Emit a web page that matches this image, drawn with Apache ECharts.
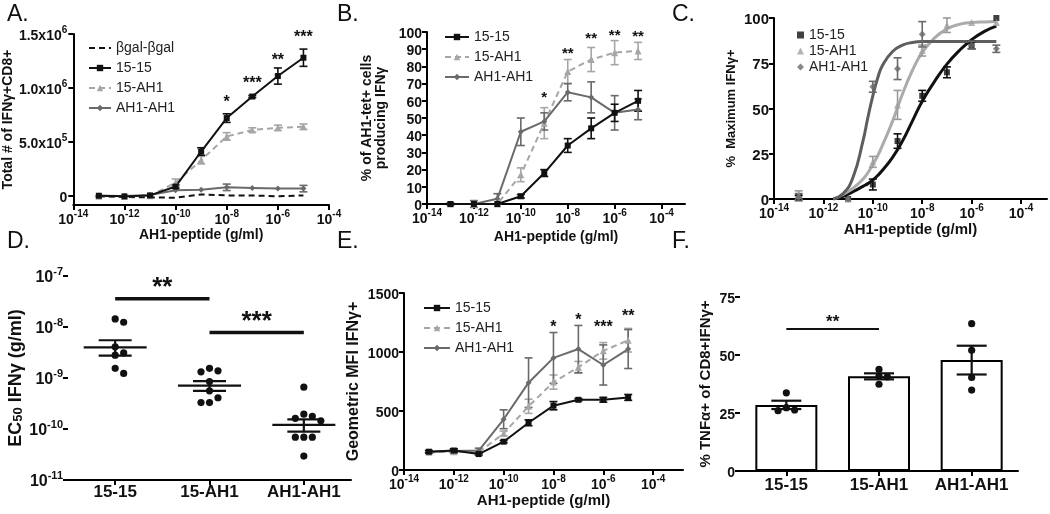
<!DOCTYPE html>
<html><head><meta charset="utf-8">
<script src="https://cdn.jsdelivr.net/npm/echarts@6/dist/echarts.min.js"></script>
<style>html,body{margin:0;padding:0;background:#fff}#c{width:1050px;height:514px}</style>
</head><body><div id="c"></div>
<script>
// ================= DATA =================
// dose axis: log10 of AH1-peptide concentration (g/ml)
const doseExp = [-13, -12, -11, -10, -9, -8, -7, -6, -5];
const xTickExp = [-14, -12, -10, -8, -6, -4];
const groupNames = ['15-15', '15-AH1', 'AH1-AH1'];

// Panel A: total # of IFNg+CD8+
const aBgal    = [-6000, -12000, -15000, -19000, 12000, 3000, 3000, -6000, 3000];
const a1515    = [0, -6000, 3000, 85000, 410000, 720000, 920000, 1110000, 1280000];
const a1515Err = [0, 0, 0, 15000, 35000, 40000, 10000, 75000, 80000];
const a15AH1   = [-5000, -5000, 0, 120000, 330000, 550000, 610000, 630000, 640000];
const a15AH1Err= [5000, 5000, 0, 35000, 35000, 35000, 20000, 25000, 25000];
const aAH1     = [0, -3000, 6000, 50000, 56000, 78000, 72000, 66000, 66000];
const aAH1Err  = [0, 0, 0, 0, 0, 30000, 0, 0, 30000];
const aYTicks  = [0, 500000, 1000000, 1500000];
const aStarX   = [-8, -7, -6, -5];
const aStarY   = [900000, 1075000, 1290000, 1500000];
const aStarTxt = ['*', '***', '**', '***'];

// Panel B: % of AH1-tet+ cells producing IFNg
const b1515    = [0, 0, 0, 4.5, 18, 34, 44, 53, 60];
const b1515Err = [0.5, 0, 0, 1, 2, 4, 6, 5, 6];
const b15AH1   = [0, 0, 0, 17, 47, 77, 84, 88, 89];
const b15AH1Err= [0, 0, 0, 4, 9, 7, 7, 7, 5];
const bAH1     = [0, 0, 3, 42, 48, 65, 62, 53, 55];
const bAH1Err  = [0, 2, 3, 8, 5, 5, 9, 10, 6];
const bStarX   = [-9, -8, -7, -6, -5];
const bStarY   = [64, 89.5, 98.3, 99.8, 99.2];
const bStarTxt = ['*', '**', '**', '**', '**'];

// Panel C: % maximum IFNg+ (points + fitted curves)
const c1515    = [1, null, 0, 8, 32, 57, 70, 85, 100];
const c1515Err = [1, 0, 0, 3, 4, 3, 3, 2, 0];
const c15AH1   = [2, null, 0, 20.5, 52, 82, 96, 97.5, 97.5];
const c15AH1Err= [2.5, 0, 0, 3, 8, 3, 4, 0, 0];
const cAH1     = [1, null, 0, 62, 72, 91, null, 85, 83];
const cAH1Err  = [2, 0, 0, 3, 6, 7, 0, 2, 2];
const cFitX    = [-11.6, -11.2, -10.8, -10.4, -10.2, -10, -9.8, -9.6, -9.2, -8.8, -8.4, -8, -7.5, -7, -6.5, -6, -5.5, -5];
const cFit1515 = [0, 1.5, 4, 7, 8.5, 10.5, 13, 16, 23, 32, 43, 54, 65, 74.5, 82, 88, 92.5, 95.5];
const cFit15AH1= [0, 2.5, 6, 11, 14.5, 19, 24, 30, 43, 58, 71, 81, 89, 94, 96.5, 97.5, 97.8, 98];
const cFitAH1  = [0, 3, 12, 32, 45, 57, 67, 74, 81.5, 85, 86.5, 87, 87, 87, 87, 87, 87, 87];

// Panel D: EC50 IFNg (g/ml)
const d1515    = [1.44e-8, 1.24e-8, 4.1e-9, 3.1e-9, 2.8e-9, 1.55e-9, 1.23e-9];
const d15AH1   = [1.55e-9, 1.38e-9, 1.32e-9, 8.5e-10, 5.6e-10, 4.1e-10, 3.3e-10, 3.3e-10];
const dAH1     = [6.6e-10, 1.95e-10, 1.78e-10, 1.62e-10, 1.45e-10, 6.9e-11, 6.9e-11, 6.9e-11, 2.95e-11];
const dMean    = [4.0e-9, 7.1e-10, 1.2e-10];
const dSemHi   = [5.5e-9, 8.7e-10, 1.55e-10];
const dSemLo   = [2.75e-9, 5.6e-10, 8.9e-11];
const dYTickExp= [-11, -10, -9, -8, -7];
const dSigFrom = [0.2, 1.3];
const dSigTo   = [0.8, 1.9];
const dSigY    = [3.6e-8, 7.8e-9];
const dSigTxt  = ['**', '***'];

// Panel E: geometric MFI IFNg+
const e1515    = [155, 165, 135, 240, 400, 545, 595, 595, 615];
const e1515Err = [10, 15, 10, 10, 25, 35, 10, 20, 25];
const e15AH1   = [150, 155, 150, 310, 540, 745, 870, 1010, 1100];
const e15AH1Err= [10, 15, 10, 20, 60, 60, 50, 70, 100];
const eAH1     = [155, 160, 165, 430, 740, 950, 1025, 890, 1025];
const eAH1Err  = [10, 15, 20, 80, 210, 215, 200, 170, 165];
const eStarX   = [-8, -7, -6, -5];
const eStarY   = [1237, 1294, 1237, 1333];
const eStarTxt = ['*', '*', '***', '**'];

// Panel F: % TNFa+ of CD8+IFNg+
const fMean    = [28.5, 40.8, 47.8];
const fSem     = [1.8, 1.3, 6.2];
const fPts     = [[33.7, 27.3, 26.0, 26.3], [43.8, 37.4, 40.6, 40.8], [63.5, 52.0, 40.3, 34.9]];
const fSigFrom = [-0.09];
const fSigTo   = [0.97];
const fSigY    = [61.2];
const fSigTxt  = ['**'];

// ================= STYLE / HELPERS =================
const FF = '"Liberation Sans", Arial, Helvetica, sans-serif';
const INK = '#111111', LIGHT = '#a6a6a6', DARK = '#6a6a6a';

function rich(fs, sfs) {
  return {
    b: {fontSize: fs, fontWeight: 'bold', fontFamily: FF, color: INK, lineHeight: fs + 4, verticalAlign: 'bottom'},
    s: {fontSize: sfs || Math.round(fs * 0.7), fontWeight: 'bold', fontFamily: FF, color: INK, lineHeight: fs, verticalAlign: 'top'}
  };
}
const nameStyle = fs => ({fontSize: fs, fontWeight: 'bold', fontFamily: FF, color: INK, rich: {sub: {fontSize: Math.round(fs*0.7), fontWeight: 'bold', fontFamily: FF, color: INK, verticalAlign: 'bottom', padding: [6,0,0,0]}}});
const lineAx = {onZero: false, lineStyle: {color: '#000', width: 2}};
const tickAx = (vals, len) => ({show: true, length: len || 5, lineStyle: {color: '#000', width: 2}, customValues: vals});

function doseAxis(gi, max, fs, nameFs, nameGap) {
  return {type: 'value', gridIndex: gi, min: -14, max: max,
    axisLine: lineAx, axisTick: tickAx(xTickExp),
    axisLabel: {customValues: xTickExp, margin: 4, formatter: v => '{b|10}{s|' + v + '}', rich: rich(fs)},
    splitLine: {show: false},
    name: 'AH1-peptide (g/ml)', nameLocation: 'middle', nameGap: nameGap, nameTextStyle: nameStyle(nameFs)};
}
function valAxis(gi, min, max, ticks, fs, name, nameFs, nameGap, fmt, margin) {
  return {type: 'value', gridIndex: gi, min: min, max: max,
    axisLine: lineAx, axisTick: tickAx(ticks),
    axisLabel: {customValues: ticks, margin: margin || 5, formatter: fmt || (v => '{b|' + v + '}'), rich: rich(fs)},
    splitLine: {show: false},
    name: name, nameLocation: 'middle', nameGap: nameGap, nameTextStyle: nameStyle(nameFs)};
}
function catAxis(gi, fs, margin) {
  return {type: 'category', gridIndex: gi, data: groupNames, boundaryGap: true,
    axisLine: lineAx, axisTick: {show: true, length: 5, interval: 0, alignWithLabel: true, lineStyle: {color: '#000', width: 2}},
    axisLabel: {interval: 0, hideOverlap: false, margin: margin, fontSize: fs, fontWeight: 'bold', fontFamily: FF, color: INK}, splitLine: {show: false}};
}
const pairs = (xs, ys) => xs.map((x, i) => [x, ys[i]]).filter(p => p[1] != null);

function lineSeries(name, gi, ys, color, symbol, size, dashed) {
  return {type: 'line', name: name, xAxisIndex: gi, yAxisIndex: gi, data: pairs(doseExp, ys),
    symbol: symbol, symbolSize: size, showSymbol: symbol !== 'none', z: 4,
    itemStyle: {color: color}, lineStyle: {color: color, width: 2, type: dashed ? [6, 4] : 'solid'}};
}
function errSeries(gi, xs, ys, es, color, cap, lw) {
  const data = [];
  xs.forEach((x, i) => { if (ys[i] != null && es[i]) data.push([x, ys[i], es[i]]); });
  return {type: 'custom', xAxisIndex: gi, yAxisIndex: gi, data: data, silent: true, z: 3,
    encode: {x: 0, y: 1},
    renderItem: (p, api) => {
      const x = api.value(0), y = api.value(1), e = api.value(2);
      const t = api.coord([x, y + e]), b = api.coord([x, y - e]);
      const st = {stroke: color, lineWidth: lw || 1.6};
      return {type: 'group', children: [
        {type: 'line', shape: {x1: t[0], y1: t[1], x2: b[0], y2: b[1]}, style: st},
        {type: 'line', shape: {x1: t[0] - cap / 2, y1: t[1], x2: t[0] + cap / 2, y2: t[1]}, style: st},
        {type: 'line', shape: {x1: b[0] - cap / 2, y1: b[1], x2: b[0] + cap / 2, y2: b[1]}, style: st}]};
    }};
}
function starSeries(gi, xs, ys, txt, fs) {
  const data = xs.map((x, i) => [x, ys[i]]);
  return {type: 'custom', xAxisIndex: gi, yAxisIndex: gi, data: data, silent: true, z: 6, encode: {x: 0, y: 1},
    renderItem: (p, api) => {
      const c = api.coord([api.value(0), api.value(1)]);
      return {type: 'text', x: c[0], y: c[1] + 0.23 * fs,
        style: {text: txt[p.dataIndex], fontSize: fs, fontWeight: 'bold', fontFamily: FF, fill: INK, align: 'center', verticalAlign: 'middle'}};
    }};
}
function sigSeries(gi, from, to, ys, txt, fs, lw, toVal) {
  const data = from.map((f, i) => [f, toVal(ys[i]), to[i]]);
  return {type: 'custom', xAxisIndex: gi, yAxisIndex: gi, data: data, silent: true, z: 6, encode: {x: 0, y: 1},
    renderItem: (p, api) => {
      const a = api.coord([api.value(0), api.value(1)]), b = api.coord([api.value(2), api.value(1)]);
      return {type: 'group', children: [
        {type: 'line', shape: {x1: a[0], y1: a[1], x2: b[0], y2: b[1]}, style: {stroke: INK, lineWidth: lw}},
        {type: 'text', x: (a[0] + b[0]) / 2, y: a[1] + 0.08 * fs, style: {text: txt[p.dataIndex], fontSize: fs, fontWeight: 'bold', fontFamily: FF, fill: INK, align: 'center', verticalAlign: 'bottom'}}]};
    }};
}
// simple column-scatter (beeswarm) layout: returns offset index for each value
function swarm(vals, thr) {
  const order = vals.map((v, i) => i).sort((a, b) => vals[b] - vals[a]);
  const off = new Array(vals.length), placed = [];
  const cands = [0, 1, -1, 2, -2, 3, -3];
  order.forEach(i => {
    for (const c of cands) {
      if (!placed.some(j => off[j] === c && Math.abs(vals[j] - vals[i]) < thr)) { off[i] = c; break; }
    }
    placed.push(i);
  });
  return off;
}
function dotSeries(gi, groups, thr, stepPx, r, toVal) {
  const data = [];
  groups.forEach((g, gi2) => {
    const vv = g.map(toVal);
    const off = swarm(vv, thr);
    vv.forEach((v, k) => data.push([gi2, v, off[k]]));
  });
  return {type: 'custom', xAxisIndex: gi, yAxisIndex: gi, data: data, silent: true, z: 5, encode: {x: 0, y: 1},
    renderItem: (p, api) => {
      const c = api.coord([api.value(0), api.value(1)]);
      return {type: 'circle', shape: {cx: c[0] + api.value(2) * stepPx, cy: c[1], r: r}, style: {fill: INK}};
    }};
}
function meanSemSeries(gi, means, lo, hi, meanW, capW, lw, toVal) {
  const data = means.map((m, i) => [i, toVal(m), toVal(lo[i]), toVal(hi[i])]);
  return {type: 'custom', xAxisIndex: gi, yAxisIndex: gi, data: data, silent: true, z: 6, encode: {x: 0, y: 1},
    renderItem: (p, api) => {
      const m = api.coord([api.value(0), api.value(1)]);
      const l = api.coord([api.value(0), api.value(2)]);
      const h = api.coord([api.value(0), api.value(3)]);
      const st = {stroke: INK, lineWidth: lw};
      const ch = [
        {type: 'line', shape: {x1: h[0], y1: h[1], x2: l[0], y2: l[1]}, style: st},
        {type: 'line', shape: {x1: h[0] - capW / 2, y1: h[1], x2: h[0] + capW / 2, y2: h[1]}, style: st},
        {type: 'line', shape: {x1: l[0] - capW / 2, y1: l[1], x2: l[0] + capW / 2, y2: l[1]}, style: st}];
      if (meanW) ch.push({type: 'line', shape: {x1: m[0] - meanW / 2, y1: m[1], x2: m[0] + meanW / 2, y2: m[1]}, style: st});
      return {type: 'group', children: ch};
    }};
}
const legendBase = (left, top, names, gap, iw, ih) => ({
  orient: 'vertical', left: left, top: top, itemGap: gap, itemWidth: iw, itemHeight: ih, selectedMode: false,
  data: names, formatter: n => n.split('|')[1],
  textStyle: {fontSize: 14, fontFamily: FF, color: '#222'}
});
const sup = v => { if (v === 0) return '{b|0}'; const e = Math.floor(Math.log10(v) + 1e-9); return '{b|' + (v / Math.pow(10, e)).toFixed(1) + 'x10}{s|' + e + '}'; };

// ================= OPTION =================
const series = [];
// A
series.push(lineSeries('A|βgal-βgal', 0, aBgal, INK, 'none', 0, true));
series.push(errSeries(0, doseExp, a15AH1, a15AH1Err, LIGHT, 8));
series.push(lineSeries('A|15-AH1', 0, a15AH1, LIGHT, 'triangle', 7, true));
series.push(errSeries(0, doseExp, aAH1, aAH1Err, DARK, 8));
series.push(lineSeries('A|AH1-AH1', 0, aAH1, DARK, 'diamond', 6, false));
series.push(errSeries(0, doseExp, a1515, a1515Err, INK, 8));
series.push(lineSeries('A|15-15', 0, a1515, INK, 'rect', 6, false));
series.push(starSeries(0, aStarX, aStarY, aStarTxt, 16));
// B
series.push(errSeries(1, doseExp, b15AH1, b15AH1Err, LIGHT, 8));
series.push(lineSeries('B|15-AH1', 1, b15AH1, LIGHT, 'triangle', 7, true));
series.push(errSeries(1, doseExp, bAH1, bAH1Err, DARK, 8));
series.push(lineSeries('B|AH1-AH1', 1, bAH1, DARK, 'diamond', 6, false));
series.push(errSeries(1, doseExp, b1515, b1515Err, INK, 8));
series.push(lineSeries('B|15-15', 1, b1515, INK, 'rect', 6, false));
series.push(starSeries(1, bStarX, bStarY, bStarTxt, 15));
// C
const fitLine = (ys, color) => ({type: 'line', xAxisIndex: 2, yAxisIndex: 2, data: pairs(cFitX, ys), smooth: 0.5, symbol: 'none', z: 2, lineStyle: {color: color, width: 3}});
series.push(fitLine(cFit1515, INK));
series.push(fitLine(cFit15AH1, '#ababab'));
series.push(fitLine(cFitAH1, '#5e5e5e'));
series.push(errSeries(2, doseExp, c1515, c1515Err, INK, 8));
series.push(errSeries(2, doseExp, c15AH1, c15AH1Err, '#9a9a9a', 8));
series.push(errSeries(2, doseExp, cAH1, cAH1Err, DARK, 8));
const sc = (name, ys, color, sym, size) => ({type: 'scatter', name: name, xAxisIndex: 2, yAxisIndex: 2, data: pairs(doseExp, ys), symbol: sym, symbolSize: size, itemStyle: {color: color}, z: 5});
series.push(sc('C|15-15', c1515, INK, 'rect', 6));
series.push(sc('C|15-AH1', c15AH1, '#a0a0a0', 'triangle', 7));
series.push(sc('C|AH1-AH1', cAH1, DARK, 'diamond', 7));
// D
const lg = v => Math.log10(v);
series.push(dotSeries(3, [d1515, d15AH1, dAH1], 0.14, 8.5, 3.6, lg));
series.push(meanSemSeries(3, dMean, dSemLo, dSemHi, 63, 33, 2.2, lg));
series.push(sigSeries(3, dSigFrom, dSigTo, dSigY, dSigTxt, 26, 3.5, lg));
// E
series.push(errSeries(4, doseExp, e15AH1, e15AH1Err, LIGHT, 8));
series.push(lineSeries('E|15-AH1', 4, e15AH1, LIGHT, 'triangle', 7, true));
series.push(errSeries(4, doseExp, eAH1, eAH1Err, DARK, 8));
series.push(lineSeries('E|AH1-AH1', 4, eAH1, DARK, 'diamond', 6, false));
series.push(errSeries(4, doseExp, e1515, e1515Err, INK, 8));
series.push(lineSeries('E|15-15', 4, e1515, INK, 'rect', 6, false));
series.push(starSeries(4, eStarX, eStarY, eStarTxt, 16));
// F
series.push({type: 'bar', xAxisIndex: 5, yAxisIndex: 5, data: fMean, barWidth: 62, z: 2,
  itemStyle: {color: '#fff', borderColor: '#000', borderWidth: 2}});
series.push(dotSeries(5, fPts, 3, 8.3, 3.6, v => v));
series.push(meanSemSeries(5, fMean, fMean.map((m, i) => m - fSem[i]), fMean.map((m, i) => m + fSem[i]), 0, 30, 2.2, v => v));
series.push(sigSeries(5, fSigFrom, fSigTo, fSigY, fSigTxt, 17, 2, v => v));

const option = {
  animation: false,
  backgroundColor: '#fff',
  grid: [
    {left: 69, top: 34, width: 260, height: 171},
    {left: 427, top: 32, width: 258, height: 172},
    {left: 774, top: 18, width: 273, height: 181},
    {left: 68, top: 276, width: 283, height: 204},
    {left: 404, top: 293, width: 279, height: 177},
    {left: 740, top: 297, width: 278, height: 174}
  ],
  xAxis: [
    doseAxis(0, -4, 14, 14, 18),
    doseAxis(1, -3, 14, 14, 26),
    doseAxis(2, -2.95, 14, 15, 23),
    catAxis(3, 17, 4),
    doseAxis(4, -2.8, 14, 15, 23),
    catAxis(5, 17, 6)
  ],
  yAxis: [
    valAxis(0, -86000, 1500000, aYTicks, 14, 'Total # of IFNγ+CD8+', 14, 52, sup, 6),
    valAxis(1, 0, 100, [0,10,20,30,40,50,60,70,80,90,100], 14, '% of AH1-tet+ cells\nproducing IFNγ', 14, 39),
    valAxis(2, 0, 100, [0,25,50,75,100], 15, '%  Maximum IFNγ+', 13, 36),
    valAxis(3, -11, -7, dYTickExp, 16, 'EC{sub|50} IFNγ (g/ml)', 18, 40, v => '{b|10}{s|' + v + '}', 5),
    valAxis(4, 0, 1500, [0,500,1000,1500], 14, 'Geometric MFI IFNγ+', 16, 42),
    valAxis(5, 0, 75, [0,25,50,75], 14, '% TNFα+ of CD8+IFNγ+', 15, 27)
  ],
  legend: [
    legendBase(83, 36, [{name: 'A|βgal-βgal', itemStyle: {opacity: 0, color: 'rgba(0,0,0,0)'}}, 'A|15-15', 'A|15-AH1', 'A|AH1-AH1'], 6, 22, 8),
    legendBase(439, 25, ['B|15-15', 'B|15-AH1', 'B|AH1-AH1'], 6, 24, 8),
    legendBase(792, 23, ['C|15-15', 'C|15-AH1', 'C|AH1-AH1'], 2, 7, 7),
    legendBase(418, 296, ['E|15-15', 'E|15-AH1', 'E|AH1-AH1'], 6, 26, 8)
  ],
  graphic: [
    ['A.', 7, 3], ['B.', 337, 3], ['C.', 672, 3], ['D.', 7, 230], ['E.', 337, 230], ['F.', 672, 230]
  ].map(t => ({type: 'text', left: t[1], top: t[2], style: {text: t[0], fontSize: 23, fontFamily: FF, fill: INK}})),
  series: series
};
const chart = echarts.init(document.getElementById('c'), null, {renderer: 'canvas'});
chart.setOption(option);
</script>
</body></html>
